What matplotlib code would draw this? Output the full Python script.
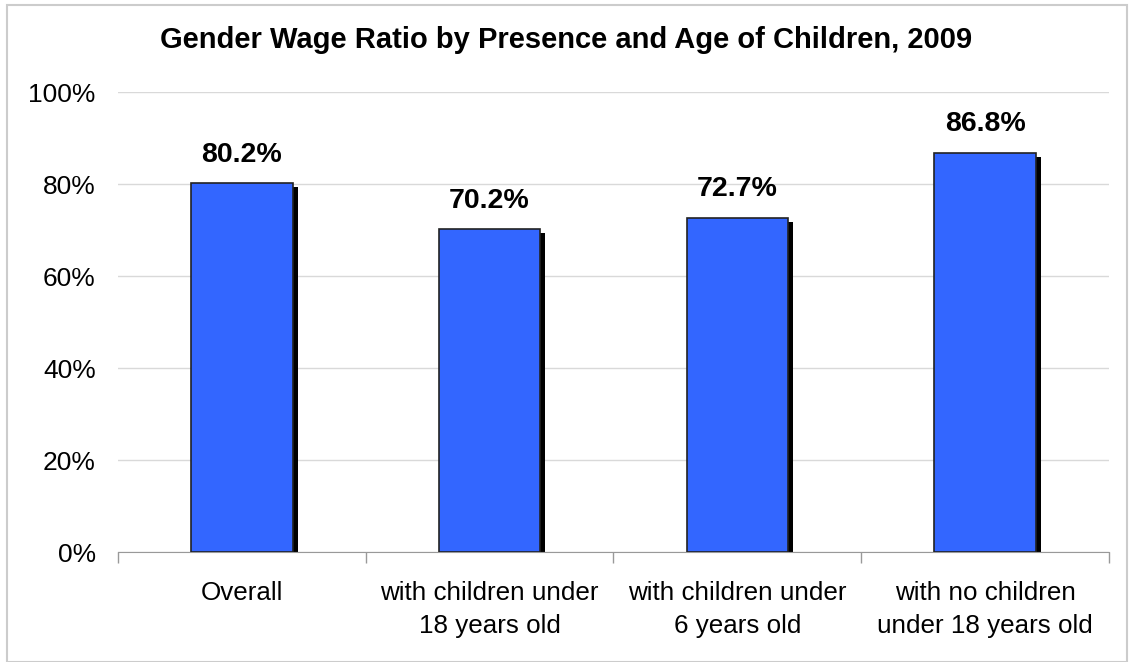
import numpy as np
import matplotlib
matplotlib.use('Agg')
import matplotlib.pyplot as plt
import matplotlib.transforms as mtransforms
from matplotlib.patches import Rectangle

categories = ['Overall', 'with children under\n18 years old',
              'with children under\n6 years old',
              'with no children\nunder 18 years old']
ratios = [80.2, 70.2, 72.7, 86.8]
y_ticks = [0, 20, 40, 60, 80, 100]

plt.rcParams['font.family'] = ['Liberation Sans', 'DejaVu Sans']

fig = plt.figure(figsize=(11.3, 6.62), dpi=100)
ax = fig.add_axes([0.1044, 0.166, 0.877, 0.695])

x = np.arange(len(categories))
width = 0.41

# drop shadow: same bars shifted a few pixels right and down
shadow = mtransforms.offset_copy(ax.transData, fig=fig, x=5, y=-4, units='dots')
ax.bar(x, ratios, width=width, color='black', transform=shadow, zorder=2)
ax.bar(x, ratios, width=width, color='#3366FF', edgecolor='#222222',
       linewidth=1.2, zorder=3)

for xi, v in zip(x, ratios):
    ax.annotate(f'{v:.1f}%', (xi, v), xytext=(0, 11), textcoords='offset points',
                ha='center', va='bottom', fontsize=20.5, fontweight='bold')

ax.set_xlim(-0.5, len(categories) - 0.5)
ax.set_ylim(0, 100)
ax.set_yticks(y_ticks)
ax.set_yticklabels([f'{t}%' for t in y_ticks], fontsize=19)
ax.tick_params(axis='y', length=0, pad=16)

ax.set_xticks(x)
ax.set_xticklabels(categories, fontsize=18.7, linespacing=1.45)
ax.tick_params(axis='x', length=0, pad=21)
ax.set_xticks(np.arange(len(categories) + 1) - 0.5, minor=True)
ax.tick_params(axis='x', which='minor', length=8, color='#999999', width=1)

ax.yaxis.grid(True, color='#d9d9d9', linewidth=1)
ax.set_axisbelow(True)
for s in ['left', 'right', 'top']:
    ax.spines[s].set_visible(False)
ax.spines['bottom'].set_color('#999999')

fig.text(0.501, 0.94, 'Gender Wage Ratio by Presence and Age of Children, 2009',
         ha='center', va='center', fontsize=21, fontweight='bold')

fig.patches.append(Rectangle((7 / 1130, 0), 1120 / 1130, 1 - 5 / 662,
                             transform=fig.transFigure, fill=False,
                             edgecolor='#cccccc', linewidth=1.5))

fig.savefig('out.png', dpi=100)
